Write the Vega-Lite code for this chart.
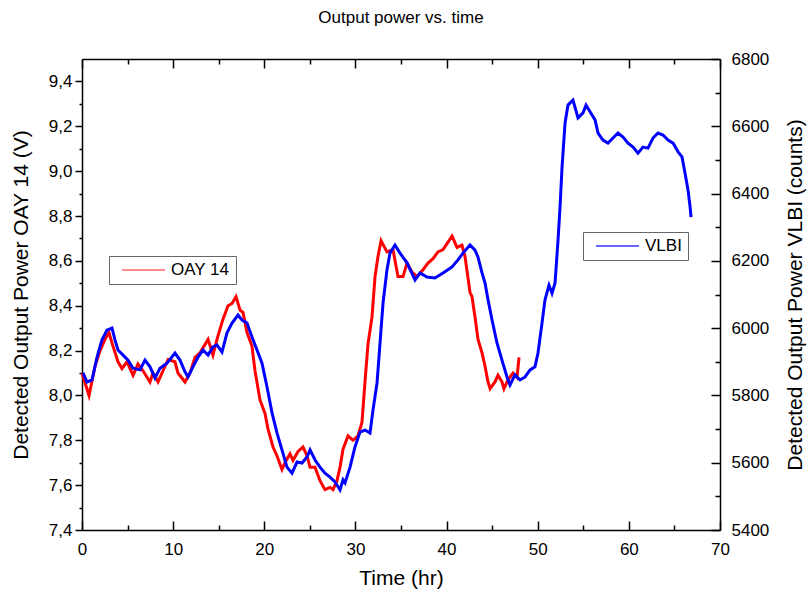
{
  "$schema": "https://vega.github.io/schema/vega-lite/v6.json",
  "width": 638,
  "height": 471,
  "autosize": {"type": "none"},
  "padding": {"left": 82, "top": 59, "right": 87, "bottom": 70},
  "title": {"text": "Output power vs. time", "fontSize": 17, "fontWeight": "normal", "font": "Liberation Sans", "color": "#000000", "offset": 23},
  "config": {
    "view": {"stroke": null},
    "font": "Liberation Sans",
    "axis": {"grid": false, "domainColor": "#000000", "domainWidth": 1.5, "tickColor": "#000000", "tickWidth": 1.5, "labelColor": "#000000", "titleColor": "#000000", "labelFont": "Liberation Sans", "titleFont": "Liberation Sans", "labelFontSize": 17, "titleFontSize": 21, "titleFontWeight": "normal"},
    "legend": {"orient": "none", "symbolType": "stroke", "symbolSize": 1849, "symbolStrokeWidth": 1.5, "labelFont": "Liberation Sans", "labelFontSize": 17, "labelColor": "#000000", "strokeColor": "#666666", "fillColor": "#ffffff", "padding": 6, "symbolOffset": 6, "labelOffset": 5, "clipHeight": 16}
  },
  "datasets": {
    "oay": [
      {"t":0,"v":8.10},{"t":0.77,"v":8.00},{"t":1.43,"v":8.13},{"t":1.98,"v":8.20},{"t":2.52,"v":8.25},{"t":2.96,"v":8.28},{"t":3.40,"v":8.22},{"t":3.95,"v":8.15},{"t":4.39,"v":8.12},{"t":4.94,"v":8.15},{"t":5.60,"v":8.09},{"t":6.14,"v":8.14},{"t":6.69,"v":8.11},{"t":7.46,"v":8.06},{"t":7.79,"v":8.10},{"t":8.34,"v":8.06},{"t":8.89,"v":8.11},{"t":9.44,"v":8.16},{"t":10.20,"v":8.15},{"t":10.53,"v":8.10},{"t":11.30,"v":8.06},{"t":11.85,"v":8.10},{"t":12.40,"v":8.17},{"t":12.95,"v":8.19},{"t":13.83,"v":8.25},{"t":14.37,"v":8.18},{"t":14.81,"v":8.25},{"t":15.47,"v":8.34},{"t":16.02,"v":8.40},{"t":16.46,"v":8.41},{"t":16.90,"v":8.44},{"t":17.34,"v":8.38},{"t":17.67,"v":8.37},{"t":18.10,"v":8.28},{"t":18.65,"v":8.22},{"t":18.98,"v":8.11},{"t":19.53,"v":7.98},{"t":20.08,"v":7.92},{"t":20.41,"v":7.85},{"t":20.96,"v":7.77},{"t":21.40,"v":7.73},{"t":21.94,"v":7.67},{"t":22.27,"v":7.70},{"t":22.82,"v":7.74},{"t":23.15,"v":7.71},{"t":23.70,"v":7.75},{"t":24.25,"v":7.77},{"t":24.69,"v":7.73},{"t":25.02,"v":7.68},{"t":25.57,"v":7.68},{"t":26.11,"v":7.62},{"t":26.66,"v":7.58},{"t":27.21,"v":7.59},{"t":27.54,"v":7.58},{"t":27.98,"v":7.62},{"t":28.31,"v":7.68},{"t":28.64,"v":7.76},{"t":29.19,"v":7.82},{"t":29.73,"v":7.80},{"t":30.28,"v":7.82},{"t":30.72,"v":7.88},{"t":31.05,"v":8.06},{"t":31.38,"v":8.23},{"t":31.82,"v":8.35},{"t":32.15,"v":8.53},{"t":32.48,"v":8.62},{"t":32.81,"v":8.69},{"t":33.46,"v":8.64},{"t":34.12,"v":8.65},{"t":34.67,"v":8.53},{"t":35.22,"v":8.53},{"t":35.66,"v":8.59},{"t":36.21,"v":8.55},{"t":36.76,"v":8.53},{"t":37.41,"v":8.56},{"t":37.96,"v":8.59},{"t":38.51,"v":8.61},{"t":39.06,"v":8.64},{"t":39.61,"v":8.65},{"t":40.60,"v":8.71},{"t":41.15,"v":8.66},{"t":41.69,"v":8.67},{"t":42.02,"v":8.62},{"t":42.57,"v":8.46},{"t":42.79,"v":8.44},{"t":43.12,"v":8.35},{"t":43.45,"v":8.25},{"t":43.89,"v":8.19},{"t":44.22,"v":8.13},{"t":44.55,"v":8.06},{"t":44.77,"v":8.03},{"t":45.31,"v":8.06},{"t":45.64,"v":8.09},{"t":46.08,"v":8.06},{"t":46.30,"v":8.03},{"t":46.74,"v":8.07},{"t":47.29,"v":8.10},{"t":47.73,"v":8.08},{"t":47.95,"v":8.17}
    ],
    "vlbi": [
      {"t":0.11,"c":5867},{"t":0.55,"c":5840},{"t":1.10,"c":5846},{"t":1.65,"c":5914},{"t":2.19,"c":5965},{"t":2.74,"c":5994},{"t":3.29,"c":6000},{"t":3.62,"c":5965},{"t":3.95,"c":5935},{"t":4.72,"c":5914},{"t":5.05,"c":5905},{"t":5.60,"c":5881},{"t":6.36,"c":5876},{"t":6.91,"c":5905},{"t":7.46,"c":5885},{"t":8.01,"c":5852},{"t":8.56,"c":5881},{"t":9.33,"c":5896},{"t":10.20,"c":5926},{"t":10.75,"c":5905},{"t":11.30,"c":5870},{"t":11.63,"c":5855},{"t":12.18,"c":5885},{"t":12.73,"c":5914},{"t":13.28,"c":5935},{"t":13.83,"c":5920},{"t":14.37,"c":5944},{"t":14.81,"c":5950},{"t":15.36,"c":5929},{"t":15.91,"c":5986},{"t":16.46,"c":6015},{"t":17.12,"c":6039},{"t":17.56,"c":6024},{"t":18.10,"c":6015},{"t":18.65,"c":5974},{"t":19.20,"c":5935},{"t":19.75,"c":5896},{"t":20.30,"c":5825},{"t":20.85,"c":5748},{"t":21.40,"c":5688},{"t":21.94,"c":5638},{"t":22.49,"c":5587},{"t":23.04,"c":5569},{"t":23.59,"c":5602},{"t":24.14,"c":5599},{"t":24.69,"c":5617},{"t":25.02,"c":5638},{"t":25.57,"c":5608},{"t":26.11,"c":5587},{"t":26.66,"c":5569},{"t":27.21,"c":5557},{"t":27.76,"c":5543},{"t":28.31,"c":5519},{"t":28.64,"c":5549},{"t":28.86,"c":5540},{"t":29.41,"c":5587},{"t":29.95,"c":5647},{"t":30.50,"c":5691},{"t":31.05,"c":5697},{"t":31.60,"c":5688},{"t":31.93,"c":5757},{"t":32.37,"c":5837},{"t":32.70,"c":5956},{"t":33.03,"c":6075},{"t":33.46,"c":6173},{"t":33.79,"c":6223},{"t":34.34,"c":6247},{"t":34.89,"c":6223},{"t":35.66,"c":6194},{"t":36.54,"c":6143},{"t":37.09,"c":6164},{"t":37.85,"c":6152},{"t":38.73,"c":6149},{"t":39.61,"c":6164},{"t":40.60,"c":6182},{"t":41.25,"c":6203},{"t":41.80,"c":6223},{"t":42.57,"c":6247},{"t":43.12,"c":6232},{"t":43.45,"c":6211},{"t":43.89,"c":6164},{"t":44.22,"c":6134},{"t":44.55,"c":6084},{"t":44.99,"c":6024},{"t":45.53,"c":5956},{"t":46.08,"c":5905},{"t":46.63,"c":5855},{"t":46.96,"c":5831},{"t":47.51,"c":5861},{"t":48.06,"c":5846},{"t":48.61,"c":5855},{"t":49.16,"c":5876},{"t":49.70,"c":5885},{"t":50.03,"c":5926},{"t":50.47,"c":6015},{"t":50.80,"c":6084},{"t":51.24,"c":6128},{"t":51.57,"c":6104},{"t":51.90,"c":6134},{"t":52.23,"c":6262},{"t":52.45,"c":6360},{"t":52.67,"c":6479},{"t":53.00,"c":6610},{"t":53.32,"c":6663},{"t":53.87,"c":6678},{"t":54.42,"c":6625},{"t":54.97,"c":6640},{"t":55.30,"c":6663},{"t":55.74,"c":6643},{"t":56.29,"c":6619},{"t":56.62,"c":6580},{"t":57.16,"c":6559},{"t":57.71,"c":6550},{"t":58.26,"c":6565},{"t":58.81,"c":6580},{"t":59.36,"c":6568},{"t":59.91,"c":6550},{"t":60.46,"c":6538},{"t":61.00,"c":6520},{"t":61.55,"c":6538},{"t":62.10,"c":6535},{"t":62.65,"c":6565},{"t":63.20,"c":6580},{"t":63.75,"c":6574},{"t":64.30,"c":6559},{"t":64.85,"c":6550},{"t":65.40,"c":6524},{"t":65.83,"c":6509},{"t":66.16,"c":6461},{"t":66.49,"c":6411},{"t":66.72,"c":6360},{"t":66.82,"c":6330}
    ]
  },
  "layer": [
    {
      "data": {"name": "oay"},
      "mark": {"type": "line", "strokeWidth": 3, "interpolate": "linear"},
      "encoding": {
        "x": {"field": "t", "type": "quantitative", "scale": {"domain": [0, 70], "nice": false, "zero": false},
              "axis": {"orient": "bottom", "title": "Time (hr)", "values": [0,5,10,15,20,25,30,35,40,45,50,55,60,65,70], "tickSize": {"condition": {"test": "datum.value % 10 != 0", "value": -5}, "value": -9}, "labelPadding": 20, "labelExpr": "datum.value % 10 == 0 ? datum.label : ''", "titlePadding": 10, "labelFlush": false}},
        "y": {"field": "v", "type": "quantitative", "scale": {"domain": [7.4, 9.5], "nice": false, "zero": false},
              "axis": {"orient": "left", "title": "Detected Output Power OAY 14 (V)", "values": [7.4,7.5,7.6,7.7,7.8,7.9,8.0,8.1,8.2,8.3,8.4,8.5,8.6,8.7,8.8,8.9,9.0,9.1,9.2,9.3,9.4], "tickSize": {"condition": {"test": "round(datum.value*10) % 2 == 1", "value": 3}, "value": 7}, "labelPadding": 3, "labelExpr": "round(datum.value*10) % 2 == 0 ? replace(format(datum.value, '.1f'), '.', ',') : ''", "titlePadding": 17, "labelFlush": false}},
        "color": {"datum": "OAY 14", "scale": {"range": ["#ff0000"]}, "legend": {"title": null, "legendX": 27, "legendY": 197, "symbolOpacity": 0.6}}
      }
    },
    {
      "data": {"name": "vlbi"},
      "mark": {"type": "line", "strokeWidth": 3, "interpolate": "linear"},
      "encoding": {
        "x": {"field": "t", "type": "quantitative", "scale": {"domain": [0, 70], "nice": false, "zero": false},
              "axis": {"orient": "top", "title": null, "labels": false, "values": [0,5,10,15,20,25,30,35,40,45,50,55,60,65,70], "tickSize": {"condition": {"test": "datum.value % 10 != 0", "value": -5}, "value": -9}}},
        "y": {"field": "c", "type": "quantitative", "scale": {"domain": [5400, 6800], "nice": false, "zero": false},
              "axis": {"orient": "right", "title": "Detected Output Power VLBI (counts)", "titleAngle": -90, "values": [5400,5500,5600,5700,5800,5900,6000,6100,6200,6300,6400,6500,6600,6700,6800], "format": "d", "tickSize": {"condition": {"test": "datum.value % 200 != 0", "value": -5}, "value": -9}, "labelPadding": 20, "labelExpr": "datum.value % 200 == 0 ? datum.label : ''", "titlePadding": 37, "labelFlush": false}},
        "color": {"datum": "VLBI", "scale": {"range": ["#0000ff"]}, "legend": {"title": null, "legendX": 501, "legendY": 173, "symbolOpacity": 0.8}}
      }
    }
  ],
  "resolve": {"scale": {"y": "independent", "color": "independent"}, "axis": {"y": "independent"}, "legend": {"color": "independent"}}
}
